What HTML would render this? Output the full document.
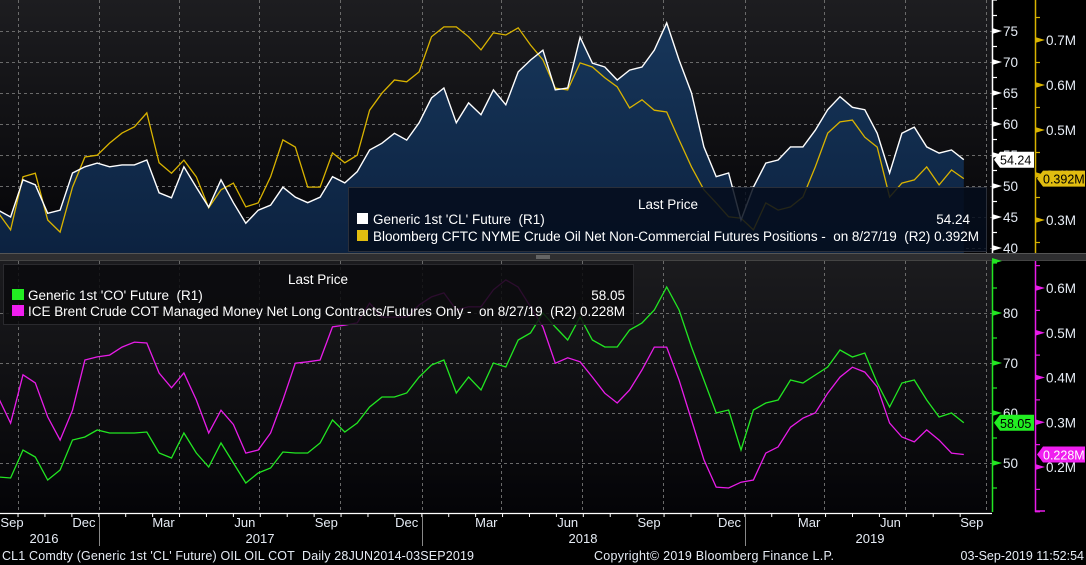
<!DOCTYPE html>
<html><head><meta charset="utf-8"><style>
html,body{margin:0;padding:0;background:#000;}
svg{display:block;font-family:"Liberation Sans",sans-serif;}
text{white-space:pre;}
</style></head><body>
<svg id="chart" width="1086" height="565" viewBox="0 0 1086 565" xmlns="http://www.w3.org/2000/svg">
<defs>
<linearGradient id="bgTop" x1="0" y1="0" x2="0" y2="1"><stop offset="0" stop-color="#1d1d20"/><stop offset="1" stop-color="#040407"/></linearGradient>
<linearGradient id="bgBot" x1="0" y1="0" x2="0" y2="1"><stop offset="0" stop-color="#1b1b1e"/><stop offset="1" stop-color="#040407"/></linearGradient>
<linearGradient id="fillArea" x1="0" y1="0" x2="0" y2="1"><stop offset="0" stop-color="#17365a"/><stop offset="1" stop-color="#0c2240"/></linearGradient>
<clipPath id="clipTop"><rect x="0" y="0" width="992" height="253"/></clipPath>
<clipPath id="clipBot"><rect x="0" y="261" width="992" height="252"/></clipPath>
</defs>
<rect x="0" y="0" width="992" height="253" fill="url(#bgTop)"/>
<rect x="0" y="261" width="992" height="252" fill="url(#bgBot)"/>
<rect x="0" y="253" width="1086" height="8" fill="#2e2e30"/>
<line x1="0" y1="253.5" x2="1086" y2="253.5" stroke="#555"/>
<line x1="0" y1="260.5" x2="1086" y2="260.5" stroke="#444"/>
<line x1="536" y1="256" x2="550" y2="256" stroke="#999"/>
<line x1="536" y1="258" x2="550" y2="258" stroke="#999"/>
<g id="grid"></g>
<g id="series"></g>
<g id="legends"></g>
<g id="axes"></g>
</svg>
<script>
// ---- data (biweekly samples starting 2016-09-09) ----
const startDate = "2016-09-09";
const stepDays = 14;
const clValues = [46.1,45.0,51.0,50.2,45.6,46.1,52.1,53.1,53.7,53.1,53.4,53.4,54.2,48.9,48.1,53.1,49.8,46.6,51.0,47.3,44.0,46.1,46.9,49.8,48.2,47.3,48.2,51.5,50.5,52.3,55.8,56.9,58.5,57.4,60.2,64.2,65.8,60.2,63.4,61.5,65.5,
63.1,68.4,70.3,71.9,65.5,65.8,74.0,69.8,69.2,67.1,68.7,69.2,71.9,76.3,70.3,65.0,56.3,51.5,52.1,44.5,49.8,53.7,54.2,56.3,56.3,59.0,62.3,64.4,62.7,62.3,58.5,52.1,58.5,59.5,56.3,55.3,55.8,54.24];
const cftcValues = [0.316,0.278,0.396,0.404,0.300,0.273,0.373,0.440,0.444,0.471,0.493,0.507,0.538,0.427,0.404,0.433,0.396,0.327,0.367,0.382,0.329,0.338,0.396,0.478,0.462,0.373,0.373,0.449,0.427,0.444,0.544,0.582,0.611,0.607,0.629,0.707,0.729,0.729,0.707,0.678,0.716,
0.711,0.727,0.689,0.656,0.593,0.589,0.649,0.640,0.616,0.596,0.549,0.567,0.544,0.540,0.478,0.418,0.367,0.338,0.307,0.304,0.278,0.338,0.322,0.329,0.351,0.418,0.493,0.518,0.522,0.484,0.462,0.351,0.382,0.389,0.418,0.378,0.411,0.392];
const coValues = [47.2,47.0,52.6,51.2,46.6,48.6,54.6,55.2,56.6,56.0,56.0,56.0,56.2,52.0,51.0,56.0,52.0,49.2,54.0,50.0,46.0,48.0,49.0,52.2,52.0,52.0,54.0,58.6,56.2,58.0,61.2,63.2,63.2,64.0,67.2,69.6,70.6,64.0,67.2,64.6,70.0,
69.2,74.6,76.0,80.0,77.2,74.6,79.2,74.6,73.2,73.2,76.6,78.0,80.6,85.2,80.6,73.2,66.6,60.0,60.6,52.6,60.6,62.0,62.6,66.6,66.0,67.6,69.2,72.6,71.2,72.0,66.0,61.2,66.0,66.6,62.6,59.2,60.0,58.05];
const iceValues = [0.356,0.298,0.406,0.388,0.312,0.260,0.327,0.439,0.446,0.450,0.468,0.479,0.477,0.410,0.377,0.410,0.350,0.276,0.327,0.295,0.231,0.238,0.276,0.350,0.432,0.435,0.439,0.513,0.517,0.522,0.566,0.535,0.535,0.535,0.562,0.580,0.589,0.551,0.558,0.558,0.596,
0.618,0.602,0.558,0.513,0.432,0.444,0.435,0.401,0.365,0.343,0.372,0.417,0.468,0.468,0.394,0.305,0.216,0.155,0.153,0.166,0.171,0.231,0.245,0.289,0.309,0.321,0.365,0.401,0.423,0.412,0.379,0.298,0.267,0.256,0.283,0.260,0.231,0.228];
const clTicks = [75,70,65,60,55,50,45,40];
const cftcTicks = [0.7,0.6,0.5,0.4,0.3];
const coTicks = [80,70,60,50];
const iceTicks = [0.6,0.5,0.4,0.3,0.2];
const monthLabels = ["Sep","Dec","Mar","Jun","Sep","Dec","Mar","Jun","Sep","Dec","Mar","Jun","Sep"];
const monthDates = ["2016-09-15","2016-12-15","2017-03-15","2017-06-15","2017-09-15","2017-12-15","2018-03-15","2018-06-15","2018-09-15","2018-12-15","2019-03-15","2019-06-15","2019-09-15"];
const yearLabels = ["2016","2017","2018","2019"];

// ---- scales ----
const NS="http://www.w3.org/2000/svg";
const DAY=86400000, ORIGIN=Date.UTC(2017,0,1);
function dayNum(s){const p=s.split("-");return (Date.UTC(+p[0],+p[1]-1,+p[2])-ORIGIN)/DAY;}
function xd(days){return 99+days*0.8843;}
function xs(s){return xd(dayNum(s));}
function xi(i){return xd(dayNum(startDate)+i*stepDays);}
const yCL=v=>31+(75-v)*6.2;
const yCFTC=v=>40+(0.7-v)*450;
const yCO=v=>463-(v-50)*5;
const yICE=v=>288+(0.6-v)*447.5;
function mk(tag,attrs,parent,text){const e=document.createElementNS(NS,tag);for(const k in attrs)e.setAttribute(k,attrs[k]);if(text!=null)e.textContent=text;parent.appendChild(e);return e;}
const grid=document.getElementById("grid"),series=document.getElementById("series"),legends=document.getElementById("legends"),axes=document.getElementById("axes");

// ---- grid ----
const qStarts=["2016-10-01","2017-01-01","2017-04-01","2017-07-01","2017-10-01","2018-01-01","2018-04-01","2018-07-01","2018-10-01","2019-01-01","2019-04-01","2019-07-01","2019-10-01"];
const gs={stroke:"#6a6a6a","stroke-width":1,"stroke-dasharray":"3,3"};
qStarts.forEach(d=>{const x=Math.round(xs(d))+0.5;
  const g1=mk("line",Object.assign({x1:x,y1:0,x2:x,y2:253},gs),grid);
  
  
  const g2=mk("line",Object.assign({x1:x,y1:261,x2:x,y2:513},gs),grid);
  
  
});
clTicks.forEach(v=>{const y=Math.round(yCL(v))+0.5;
  const g=mk("line",Object.assign({x1:0,y1:y,x2:992,y2:y},gs),grid);
  
  
});
coTicks.forEach(v=>{const y=Math.round(yCO(v))+0.5;
  const g=mk("line",Object.assign({x1:0,y1:y,x2:992,y2:y},gs),grid);
  
  
});

// ---- series ----
function pts(arr,yf){return arr.map((v,i)=>xi(i).toFixed(1)+","+yf(v).toFixed(1));}
const gTop=mk("g",{"clip-path":"url(#clipTop)"},series);
const clP=pts(clValues,yCL);
const area=mk("polygon",{points:xi(0).toFixed(1)+",253 "+clP.join(" ")+" "+xi(clValues.length-1).toFixed(1)+",253",fill:"url(#fillArea)"},gTop);


const cftcL=mk("polyline",{points:pts(cftcValues,yCFTC).join(" "),fill:"none",stroke:"#d9b300","stroke-width":1.3},gTop);


const clL=mk("polyline",{points:clP.join(" "),fill:"none",stroke:"#ffffff","stroke-width":1.4},gTop);


const gBot=mk("g",{"clip-path":"url(#clipBot)"},series);
const iceL=mk("polyline",{points:pts(iceValues,yICE).join(" "),fill:"none",stroke:"#e81ce8","stroke-width":1.3},gBot);


const coL=mk("polyline",{points:pts(coValues,yCO).join(" "),fill:"none",stroke:"#22e622","stroke-width":1.3},gBot);



// ---- legends ----
const lt=mk("g",{},legends);


mk("rect",{x:348.5,y:187.5,width:638,height:64,fill:"#050d1c","fill-opacity":0.85,stroke:"#2a2f3a"},lt);
mk("text",{x:668,y:209,fill:"#fff","font-size":13.5,"text-anchor":"middle"},lt,"Last Price");
mk("rect",{x:357,y:213,width:11,height:11,fill:"#fff"},lt);
mk("text",{x:373,y:224,fill:"#fff","font-size":13.5},lt,"Generic 1st 'CL' Future  (R1)");
mk("text",{x:970,y:224,fill:"#fff","font-size":13.5,"text-anchor":"end"},lt,"54.24");
mk("rect",{x:357,y:230,width:11,height:11,fill:"#e1bd10"},lt);
mk("text",{x:373,y:241,fill:"#fff","font-size":13.5,textLength:606,lengthAdjust:"spacing"},lt,"Bloomberg CFTC NYME Crude Oil Net Non-Commercial Futures Positions -  on 8/27/19  (R2) 0.392M");
const lb=mk("g",{},legends);


mk("rect",{x:3.5,y:264.5,width:630,height:60,fill:"#0a0a0d","fill-opacity":0.85,stroke:"#2a2a2e"},lb);
mk("text",{x:318,y:284,fill:"#fff","font-size":13.5,"text-anchor":"middle"},lb,"Last Price");
mk("rect",{x:12,y:289,width:12,height:11,fill:"#22ee22"},lb);
mk("text",{x:28,y:300,fill:"#fff","font-size":13.5},lb,"Generic 1st 'CO' Future  (R1)");
mk("text",{x:625,y:300,fill:"#fff","font-size":13.5,"text-anchor":"end"},lb,"58.05");
mk("rect",{x:12,y:305,width:12,height:11,fill:"#f01ef0"},lb);
mk("text",{x:28,y:316,fill:"#fff","font-size":13.5,textLength:597,lengthAdjust:"spacing"},lb,"ICE Brent Crude COT Managed Money Net Long Contracts/Futures Only -  on 8/27/19  (R2) 0.228M");

// ---- right axes ----
function axis(x,y0,y1,color,ticks,yf,fmt,minorStep,lo,hi,name){
  const g=mk("g",{},axes);
  
  
  mk("line",{x1:x+0.5,y1:y0,x2:x+0.5,y2:y1,stroke:color,"stroke-width":1.5},g);
  for(let v=lo;v<=hi+1e-9;v+=minorStep){const y=yf(v);if(y<y0||y>y1)continue;
    mk("line",{x1:x,y1:y,x2:x+5,y2:y,stroke:color,"stroke-width":1.2},g);}
  ticks.forEach(v=>{const y=yf(v);
    mk("polygon",{points:`${x},${y-3} ${x+10},${y} ${x},${y+3}`,fill:color},g);
    mk("text",{x:x+11,y:y+5,fill:"#e6ecf5","font-size":13.5},g,fmt(v));});
}
axis(992,0,253,"#ffffff",clTicks,yCL,v=>String(v),2.5,37.5,82.5,"cl-price-axis");
axis(1035,0,253,"#d9b300",cftcTicks,yCFTC,v=>v.toFixed(1)+"M",0.05,0.2,0.9,"cftc-axis");
axis(992,261,512,"#22e622",coTicks,yCO,v=>String(v),5,40,90,"co-price-axis");
axis(1035,261,512,"#e81ce8",iceTicks,yICE,v=>v.toFixed(1)+"M",0.05,0.05,0.65,"ice-axis");
mk("polygon",{points:"992,258 1002,261 992,264",fill:"#22e622"},axes);
mk("line",{x1:1035,y1:511,x2:1045,y2:511,stroke:"#e81ce8","stroke-width":1.5},axes);

function tag(x,y,w,bg,fg,text,name){
  const g=mk("g",{},axes);
  
  
  mk("polygon",{points:`${x},${y} ${x+6},${y-8} ${x+w},${y-8} ${x+w},${y+8} ${x+6},${y+8}`,fill:bg},g);
  mk("text",{x:x+6,y:y+5,fill:fg,"font-size":12.5},g,text);
}
tag(994,yCL(clValues[clValues.length-1]),40,"#ffffff","#000",clValues[clValues.length-1].toFixed(2),"cl-last-value-tag");
tag(1037,yCFTC(cftcValues[cftcValues.length-1]),48,"#e1bd10","#000",cftcValues[cftcValues.length-1].toFixed(3)+"M","cftc-last-value-tag");
tag(994,yCO(coValues[coValues.length-1]),40,"#22ee22","#000",coValues[coValues.length-1].toFixed(2),"co-last-value-tag");
tag(1037,yICE(iceValues[iceValues.length-1]),48,"#f01ef0","#fff",iceValues[iceValues.length-1].toFixed(3)+"M","ice-last-value-tag");

// ---- x axis ----
const xa=mk("g",{},axes);


mk("line",{x1:0,y1:513.5,x2:992,y2:513.5,stroke:"#ffffff","stroke-width":1.2},xa);
for(let d=dayNum("2016-09-01");d<=dayNum("2019-09-30");d+=30.44){const x=xd(d);
  if(x<0||x>992)continue;mk("line",{x1:x,y1:513,x2:x,y2:517,stroke:"#fff"},xa);}
monthLabels.forEach((m,i)=>{let x=xs(monthDates[i]);if(x<12)x=12;
  mk("text",{x:x,y:527,fill:"#e6ecf5","font-size":13,"text-anchor":"middle"},xa,m);});
["2017-01-01","2018-01-01","2019-01-01"].forEach(d=>{const x=Math.round(xs(d))+0.5;
  mk("line",{x1:x,y1:514,x2:x,y2:546,stroke:"#888"},xa);});
const yPos=[44,260,583,870];
yearLabels.forEach((y,i)=>{mk("text",{x:yPos[i],y:543,fill:"#e6ecf5","font-size":13,"text-anchor":"middle"},xa,y);});

// ---- footer ----
const ft=mk("g",{},axes);


mk("text",{x:2,y:560,fill:"#e6ecf5","font-size":12.5,textLength:472,lengthAdjust:"spacing"},ft,"CL1 Comdty (Generic 1st 'CL' Future) OIL OIL COT  Daily 28JUN2014-03SEP2019");
mk("text",{x:594,y:560,fill:"#e6ecf5","font-size":12.5,textLength:240,lengthAdjust:"spacing"},ft,"Copyright\u00a9 2019 Bloomberg Finance L.P.");
mk("text",{x:1084,y:560,fill:"#e6ecf5","font-size":12.5,"text-anchor":"end"},ft,"03-Sep-2019 11:52:54");
</script>
</body></html>
